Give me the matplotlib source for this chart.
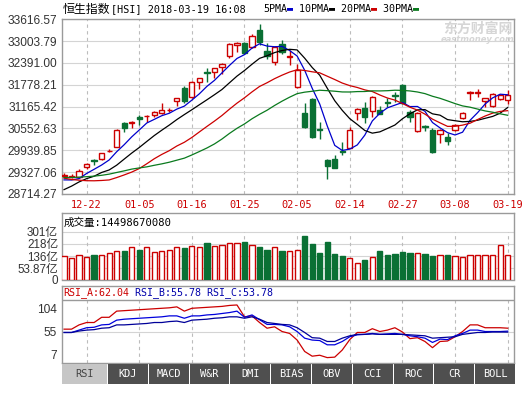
import matplotlib
matplotlib.use('Agg')
import matplotlib.pyplot as plt
from matplotlib.patches import Rectangle
import pandas as pd

MONO = ['DejaVu Sans Mono', 'DejaVu Sans', 'Noto Sans CJK SC']
SANS = ['Liberation Sans', 'Noto Sans CJK SC']
plt.rcParams['font.family'] = MONO

# ---- data (HSI daily, 2017-12-19 .. 2018-03-19) ----
dates = ['12-19', '12-20', '12-21', '12-22', '12-27', '12-28', '12-29',
         '01-02', '01-03', '01-04', '01-05', '01-08', '01-09', '01-10', '01-11',
         '01-12', '01-15', '01-16', '01-17', '01-18', '01-19', '01-22', '01-23',
         '01-24', '01-25', '01-26', '01-29', '01-30', '01-31',
         '02-01', '02-02', '02-05', '02-06', '02-07', '02-08', '02-09', '02-12',
         '02-13', '02-14', '02-15', '02-20', '02-21', '02-22', '02-23', '02-26',
         '02-27', '02-28',
         '03-01', '03-02', '03-05', '03-06', '03-07', '03-08', '03-09', '03-12',
         '03-13', '03-14', '03-15', '03-16', '03-19']
shown_dates = ['12-22', '01-05', '01-16', '01-25', '02-05', '02-14', '02-27', '03-08', '03-19']

opens = [29225, 29190, 29199, 29480, 29660, 29686, 29905, 30041, 30696, 30710,
         30883, 30890, 30930, 30996, 31060, 31323, 31698, 31445, 31847, 32140,
         32147, 32287, 32587, 32900, 32961, 32848, 33316, 32727, 32427, 32914,
         32560, 31726, 30996, 31379, 30530, 29667, 29695, 29920, 30013, 30977,
         31136, 31042, 31061, 31300, 31500, 31772, 31000, 30480, 30610, 30509,
         30387, 30322, 30509, 30855, 31550, 31555, 31323, 31192, 31370, 31351]
highs = [29290, 29260, 29414, 29592, 29700, 29870, 29976, 30530, 30743, 30762,
         30930, 30930, 31052, 31258, 31117, 31410, 31754, 31880, 31975, 32240,
         32260, 32380, 32961, 32989, 32975, 33190, 33475, 32942, 32880, 33035,
         32755, 32352, 31258, 31400, 30724, 29695, 29807, 30163, 30603, 31136,
         31304, 31470, 31183, 31398, 31580, 31800, 31070, 31000, 30650, 30556,
         30530, 30415, 30690, 31000, 31604, 31660, 31420, 31560, 31510, 31632]
lows = [29160, 29150, 29171, 29414, 29527, 29680, 29882, 30030, 30444, 30556,
        30650, 30743, 30883, 30958, 31005, 31192, 31258, 31398, 31660, 31866,
        31978, 32072, 32540, 32708, 32640, 32820, 32895, 32502, 32334, 32633,
        32334, 31700, 30560, 30290, 30256, 29124, 29452, 29807, 30013, 30790,
        30696, 30883, 30967, 31164, 31300, 31230, 30743, 30440, 30480, 29854,
        30135, 30088, 30480, 30830, 31351, 31445, 31164, 31150, 31350, 31230]
closes = [29253, 29210, 29358, 29564, 29640, 29854, 29920, 30509, 30556, 30736,
          30818, 30902, 31024, 31070, 31080, 31398, 31323, 31866, 31959, 32121,
          32240, 32371, 32914, 32940, 32661, 33157, 32970, 32596, 32848, 32708,
          32580, 32193, 30603, 30322, 30500, 29508, 29452, 29890, 30509, 31089,
          30883, 31445, 30967, 31267, 31470, 31258, 30870, 30980, 30583, 29901,
          30509, 30200, 30649, 30977, 31575, 31575, 31417, 31510, 31492, 31492]
# closes of the 29 sessions before the window, needed for the moving averages
closes_before = [29166, 29136, 29120, 29182, 29152, 28950, 29100, 29199, 29261, 29818,
                 30004, 29707, 29866, 29686, 29680, 29623, 29177,
                 29074, 29139, 28843,
                 28225, 28180, 28640, 28965, 28793,
                 29222, 29166, 28848, 29050]
# volume, in 亿
volumes = [137, 121, 144, 130, 144, 144, 159, 171, 171, 198,
           180, 198, 166, 171, 177, 198, 191, 204, 198, 227,
           204, 213, 225, 225, 231, 213, 195, 177, 196, 171,
           171, 177, 272, 218, 159, 231, 150, 137, 121, 88,
           110, 128, 171, 144, 150, 164, 159, 155, 150, 137,
           144, 144, 137, 128, 144, 144, 144, 144, 211, 145]
rsi_a = [60, 60, 69, 74, 74, 85, 85, 98, 99, 100,
         101, 102, 103, 104, 105, 107, 98, 104, 105, 106,
         107, 108, 110, 111, 86, 88, 74, 62, 65, 55,
         51, 37, 13, 3, 5, 0, 1, 16, 38, 53,
         53, 61, 55, 58, 63, 54, 40, 42, 34, 21,
         34, 35, 44, 55, 69, 69, 63, 63, 63, 62.04]
rsi_b = [53, 53, 58, 63, 64, 69, 70, 79, 81, 82,
         83, 84, 85, 86, 88, 88, 83, 88, 88, 90,
         91, 93, 95, 98, 85, 90, 80, 70, 70, 69,
         65, 55, 41, 37, 36, 27, 27, 34, 44, 48,
         49, 51, 49, 50, 51, 49, 46, 44, 41, 32,
         39, 38, 46, 51, 58, 58, 55, 55, 55, 55.78]
rsi_c = [53, 53, 56, 58, 59, 62, 63, 69, 69, 70,
         71, 72, 74, 74, 76, 77, 74, 79, 80, 81,
         83, 84, 86, 86, 83, 86, 81, 74, 72, 70,
         69, 63, 53, 42, 41, 34, 34, 41, 46, 49,
         49, 50, 49, 49, 49, 49, 48, 47, 46, 41,
         42, 43, 44, 49, 51, 53, 53, 54, 54, 53.78]

price_ticks = [28714.27, 29327.06, 29939.85, 30552.63, 31165.42,
               31778.21, 32391.00, 33003.79, 33616.57]
vol_ticks = [53.87, 136, 218, 301]
rsi_ticks = [7, 55, 104]
ma_windows = [5, 10, 20, 30]
tab_names = ['RSI', 'KDJ', 'MACD', 'W&R', 'DMI', 'BIAS', 'OBV', 'CCI', 'ROC', 'CR', 'BOLL']

# ---- styles ----
W, H = 524, 393
RED = '#cc0000'
GREEN = '#0a7034'
MA_COLORS = ['#0000cc', '#000000', '#cc0000', '#0a7a1e']
GRID = '#d4d4d4'
VGRID = '#bcbcbc'
FRAME = '#9a9a9a'
BODY_W = 0.7
XLIM = (-0.31, 59.88)

n = len(closes)
x = list(range(n))
up = [c >= o for o, c in zip(opens, closes)]
tick_idx = [dates.index(d) for d in shown_dates]

fig = plt.figure(figsize=(W / 100, H / 100), dpi=100)
fig.patch.set_facecolor('white')


def panel(left, top, right, bottom):
    a = fig.add_axes([left / W, 1 - bottom / H, (right - left) / W, (bottom - top) / H])
    a.set_xlim(*XLIM)
    for sp in a.spines.values():
        sp.set_color(FRAME)
        sp.set_linewidth(1)
    a.tick_params(length=0)
    return a


def chain(host, first, pieces):
    # place text pieces one after the other, each starting where the last ended
    prev = first
    for s, col, size in pieces:
        prev = host.annotate(s, xy=(1, 0), xycoords=prev, va='bottom', ha='left',
                             color=col, fontsize=size, annotation_clip=False)
    return prev


# ---- price panel ----
ax = panel(61.7, 19.3, 514.3, 193.9)
ax.set_ylim(price_ticks[0], price_ticks[-1])
ax.set_yticks(price_ticks)
ax.set_yticklabels(['%.2f' % v for v in price_ticks], family=SANS, fontsize=8.6, color='#333333')
ax.set_xticks(tick_idx)
ax.set_xticklabels(shown_dates, color=RED, fontsize=7.4)
ax.tick_params(axis='y', pad=3.4)
ax.tick_params(axis='x', pad=4.5)
ax.grid(axis='y', color=GRID, lw=0.8)
ax.grid(axis='x', color=VGRID, lw=0.8, linestyle=(0, (3, 3)))
ax.set_axisbelow(True)

for i in x:
    col = RED if up[i] else GREEN
    ax.vlines(i, lows[i], highs[i], color=col, lw=1, zorder=2)
    ax.add_patch(Rectangle((i - BODY_W / 2, min(opens[i], closes[i])), BODY_W,
                           max(abs(closes[i] - opens[i]), 1),
                           facecolor='white' if up[i] else col, edgecolor=col, lw=1, zorder=3))

all_closes = pd.Series(closes_before + closes)
for win, col in zip(ma_windows, MA_COLORS):
    ma = all_closes.rolling(win).mean().iloc[len(closes_before):]
    ax.plot(x, ma.values, color=col, lw=0.9, zorder=4)

# title and MA legend
fig.text(62.3 / W, 1 - 12.5 / H, '恒生指数', fontsize=8.6, va='baseline')
fig.text(111 / W, 1 - 12.5 / H, '[HSI] 2018-03-19 16:08', fontsize=7.3, va='baseline')
t = fig.text(263 / W, 1 - 13.5 / H, '5PMA', fontsize=7.2, va='bottom')
chain(ax, t, [('▬', MA_COLORS[0], 7.2), (' 10PMA', 'black', 7.2), ('▬', MA_COLORS[1], 7.2),
              (' 20PMA', 'black', 7.2), ('▬', MA_COLORS[2], 7.2), (' 30PMA', 'black', 7.2),
              ('▬', MA_COLORS[3], 7.2)])

# watermark
fig.text(478 / W, 1 - 28.5 / H, '东方财富网', fontsize=10, color='#d6d6d6',
         ha='center', va='center', weight='bold', family=['Noto Sans CJK SC'])
fig.text(478 / W, 1 - 40 / H, 'eastmoney.com', fontsize=6, color='#d6d6d6',
         ha='center', va='center', weight='bold', style='italic', family=['DejaVu Sans'])

# ---- volume panel ----
axv = panel(61.7, 213, 514.3, 279.5)
VBASE = -21.6
axv.set_ylim(VBASE, 427)
axv.bar(x, [v - VBASE for v in volumes], bottom=VBASE, width=BODY_W,
        color=['white' if u else GREEN for u in up],
        edgecolor=[RED if u else GREEN for u in up], linewidth=1, zorder=3)
axv.hlines(vol_ticks, *XLIM, color=GRID, lw=0.8, zorder=0)
axv.vlines(tick_idx, VBASE, vol_ticks[-1], color=VGRID, lw=0.8, linestyle=(0, (3, 3)), zorder=0)
axv.set_xticks([])
axv.set_yticks([VBASE] + vol_ticks)
axv.set_yticklabels(['0'] + ['%g亿' % v for v in vol_ticks], family=SANS, fontsize=8.4, color='#333333')
axv.tick_params(axis='y', pad=2.6)
axv.text(2.3 / 452.6, 0.855, '成交量:14498670080', transform=axv.transAxes,
         fontsize=7.6, va='center', ha='left')

# ---- RSI panel ----
axr = panel(61.7, 286, 514.3, 363.3)
axr.set_ylim(-12, 151)
axr.axhline(121.5, color=FRAME, lw=1)
axr.axhline(55, color=GRID, lw=0.8, zorder=0)
axr.vlines(tick_idx, -12, 121.5, color=VGRID, lw=0.8, linestyle=(0, (3, 3)), zorder=0)
axr.plot(x, rsi_a, color=RED, lw=0.9)
axr.plot(x, rsi_b, color='#0000dd', lw=0.9)
axr.plot(x, rsi_c, color='#000099', lw=0.9)
axr.set_xticks([])
axr.set_yticks(rsi_ticks)
axr.set_yticklabels([str(v) for v in rsi_ticks], family=SANS, fontsize=8.6, color='#333333')
axr.tick_params(axis='y', pad=3.4)
t = axr.text(63 / W, 1 - 298 / H, 'RSI_A:%.2f' % rsi_a[-1], fontsize=7.2, color=RED,
             va='bottom', transform=fig.transFigure)
chain(axr, t, [(' RSI_B:%.2f' % rsi_b[-1], '#0000aa', 7.2),
               (' RSI_C:%.2f' % rsi_c[-1], '#0000aa', 7.2)])

# ---- indicator tabs ----
axt = fig.add_axes([61.7 / W, 1 - 384 / H, (516 - 61.7) / W, 20.2 / H])
axt.set_xlim(61.7, 516)
axt.set_ylim(0, 1)
axt.axis('off')
x0 = 62
for k, name in enumerate(tab_names):
    w = 45 if k == 0 else 39.8
    face = '#c6c6c6' if k == 0 else '#4f4f4f'
    axt.add_patch(Rectangle((x0, 0), w, 1, facecolor=face, edgecolor='none'))
    axt.text(x0 + w / 2, 0.5, name, ha='center', va='center', fontsize=7.4,
             color='#444444' if k == 0 else 'white')
    x0 += w + 1

fig.savefig('out.png', dpi=100)
